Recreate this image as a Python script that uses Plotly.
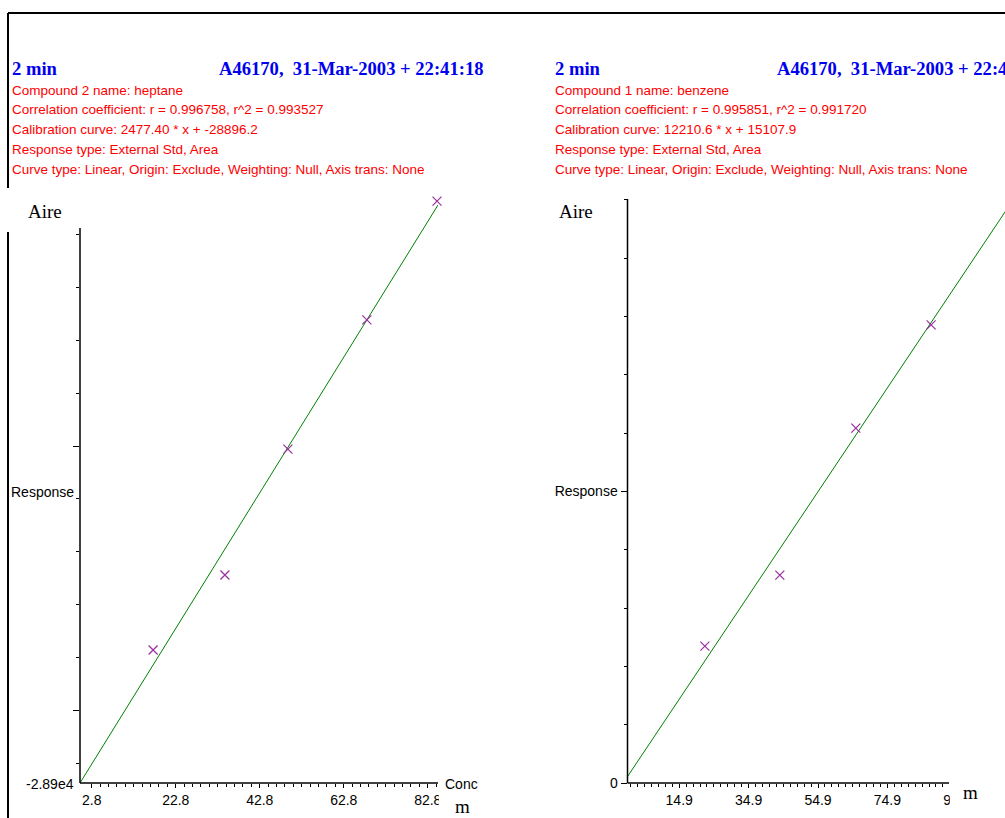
import plotly.graph_objects as go

W, H = 1005, 818

# ---------------- data ----------------
heptane_conc = [17.4, 34.5, 49.5, 68.3, 85.0]
heptane_area = [19700, 47100, 93100, 140300, 183700]
heptane_slope = 2477.40
heptane_intercept = -28896.2
heptane_fit_x = [0.0, 85.24]
heptane_xlabels = [2.8, 22.8, 42.8, 62.8, 82.8]
heptane_xlong = [12.8, 32.8, 52.8, 72.8]

benzene_conc = [22.3, 43.9, 65.8, 87.5, 109.4]
benzene_area = [322000, 489000, 835000, 1078000, 1369000]
benzene_slope = 12210.6
benzene_intercept = 15107.9
benzene_fit_x = [0.0, 112.0]
benzene_xlabels = [14.9, 34.9, 54.9, 74.9, 94.9]
benzene_xlong = [4.9, 24.9, 44.9, 64.9, 84.9]

header_time = "2 min"
header_run = "A46170,\u00a0 31-Mar-2003 + 22:41:18"
left_info = [
    "Compound 2 name: heptane",
    "Correlation coefficient: r = 0.996758, r^2 = 0.993527",
    "Calibration curve: 2477.40 * x + -28896.2",
    "Response type: External Std, Area",
    "Curve type: Linear, Origin: Exclude, Weighting: Null, Axis trans: None",
]
right_info = [
    "Compound 1 name: benzene",
    "Correlation coefficient: r = 0.995851, r^2 = 0.991720",
    "Calibration curve: 12210.6 * x + 15107.9",
    "Response type: External Std, Area",
    "Curve type: Linear, Origin: Exclude, Weighting: Null, Axis trans: None",
]

# ---------------- styling / geometry ----------------
SANS = "Liberation Sans, Arial, sans-serif"
SERIF = "Liberation Serif, Times New Roman, serif"
BLUE = "#0000ee"
RED = "#ff0000"
GREEN = "#008000"
PURPLE = "#9930a0"


def fx(p):
    return p / W


def fy(p):
    return 1 - p / H


# left panel
L_X0, L_X1, L_XEND = 80, 438, 438
L_YB, L_YT, L_YAX_TOP = 783, 195, 228
L_XSCALE = 4.2
L_YSCALE = 0.002737
l_xrange = [0, (L_X1 - L_X0) / L_XSCALE]
l_yrange = [heptane_intercept, heptane_intercept + (L_YB - L_YT) / L_YSCALE]
l_ytick0, l_ystep = -21600, 19300
l_yticks = [l_ytick0 + k * l_ystep for k in range(11)]
l_ylong = [l_yticks[1], l_yticks[6]]
l_xminor = [round(2.8 + 2 * k, 1) for k in range(42) if 2.8 + 2 * k <= l_xrange[1]]

# right panel
R_X0, R_X1, R_XEND = 627.5, 1005, 949
R_YB, R_YT, R_YAX_TOP = 783, 195, 199
R_XSCALE = 3.47
R_YSCALE = 0.000425
r_xrange = [0, (R_X1 - R_X0) / R_XSCALE]
r_yrange = [0, (R_YB - R_YT) / R_YSCALE]
r_xmax_axis = (R_XEND - R_X0) / R_XSCALE
r_ystep = 137200
r_yticks = [k * r_ystep for k in range(11)]
r_xminor = [round(0.9 + 2 * k, 1) for k in range(60) if 0.9 + 2 * k <= r_xmax_axis]

fig = go.Figure()

# fit lines
fig.add_trace(go.Scatter(
    x=heptane_fit_x, y=[heptane_slope * x + heptane_intercept for x in heptane_fit_x],
    mode="lines", line=dict(color=GREEN, width=1), xaxis="x", yaxis="y",
    showlegend=False, hoverinfo="skip"))
fig.add_trace(go.Scatter(
    x=benzene_fit_x, y=[benzene_slope * x + benzene_intercept for x in benzene_fit_x],
    mode="lines", line=dict(color=GREEN, width=1), xaxis="x2", yaxis="y2",
    showlegend=False, hoverinfo="skip"))

# calibration points
for xs, ys, xa, ya in [(heptane_conc, heptane_area, "x", "y"),
                       (benzene_conc, benzene_area, "x2", "y2")]:
    fig.add_trace(go.Scatter(
        x=xs, y=ys, mode="markers", xaxis=xa, yaxis=ya,
        marker=dict(symbol="x-thin-open", size=9, color=PURPLE,
                    line=dict(color=PURPLE, width=1.2)),
        cliponaxis=False, showlegend=False))

tick_common = dict(showline=False, showgrid=False, zeroline=False, ticks="outside",
                   tickcolor="black", tickwidth=1, automargin=False)

fig.update_layout(
    template="none",
    width=W, height=H, margin=dict(l=0, r=0, t=0, b=0, pad=0, autoexpand=False),
    paper_bgcolor="white", plot_bgcolor="white", showlegend=False,
    xaxis=dict(domain=[fx(L_X0), fx(L_X1)], range=l_xrange, anchor="y",
               tickmode="array", tickvals=heptane_xlabels,
               ticktext=[f"{v:.1f}" for v in heptane_xlabels], ticklen=4,
               tickfont=dict(family=SANS, size=14, color="black"),
               minor=dict(tickmode="array", tickvals=l_xminor, ticks="outside",
                          ticklen=3, tickcolor="black", tickwidth=1, showgrid=False),
               **tick_common),
    xaxis3=dict(domain=[fx(L_X0), fx(L_X1)], range=l_xrange, anchor="y", overlaying="x",
                tickmode="array", tickvals=heptane_xlong, ticklen=7,
                showticklabels=False, **tick_common),
    yaxis=dict(domain=[fy(L_YB), fy(L_YT)], range=l_yrange, anchor="x",
               tickmode="array", tickvals=l_ylong, ticklen=6, showticklabels=False,
               minor=dict(tickmode="array", tickvals=l_yticks, ticks="outside",
                          ticklen=3, tickcolor="black", tickwidth=1, showgrid=False),
               **tick_common),
    xaxis2=dict(domain=[fx(R_X0), 1.0], range=r_xrange, anchor="y2",
                tickmode="array", tickvals=benzene_xlabels,
                ticktext=[f"{v:.1f}" for v in benzene_xlabels], ticklen=4,
                tickfont=dict(family=SANS, size=14, color="black"),
                minor=dict(tickmode="array", tickvals=r_xminor, ticks="outside",
                           ticklen=3, tickcolor="black", tickwidth=1, showgrid=False),
                **tick_common),
    xaxis4=dict(domain=[fx(R_X0), 1.0], range=r_xrange, anchor="y2", overlaying="x2",
                tickmode="array", tickvals=benzene_xlong, ticklen=7,
                showticklabels=False, **tick_common),
    yaxis2=dict(domain=[fy(R_YB), fy(R_YT)], range=r_yrange, anchor="x2",
                tickmode="array", tickvals=[r_yticks[0], r_yticks[5], r_yticks[10]],
                ticktext=["0", "Response", ""], ticklen=6,
                tickfont=dict(family=SANS, size=14, color="black"),
                minor=dict(tickmode="array", tickvals=r_yticks, ticks="outside",
                           ticklen=3, tickcolor="black", tickwidth=1, showgrid=False),
                **tick_common),
)

# ---------------- shapes: frame, axis lines, clip boxes ----------------
def pline(x0, y0, x1, y1, w=1.5):
    return dict(type="line", xref="paper", yref="paper", x0=fx(x0), y0=fy(y0),
                x1=fx(x1), y1=fy(y1), line=dict(color="black", width=w), layer="above")


def wrect(x0, y0, x1, y1):
    return dict(type="rect", xref="paper", yref="paper", x0=fx(x0), y0=fy(y0),
                x1=fx(x1), y1=fy(y1), fillcolor="white", line=dict(width=0), layer="above")


shapes = [
    wrect(L_XEND + 0.8, 784, 442, 808),
    wrect(R_XEND + 0.8, 784, 1005, 812),
    pline(8, 13, 1005, 13, 2),
    pline(8, 13, 8, 188, 2),
    pline(8, 232, 8, 818, 2),
    pline(L_X0, L_YAX_TOP, L_X0, L_YB),
    pline(L_X0, L_YB, L_XEND, L_YB),
    pline(R_X0, R_YAX_TOP, R_X0, R_YB),
    pline(R_X0, R_YB, R_XEND, R_YB),
]
fig.update_layout(shapes=shapes)

# ---------------- annotations ----------------
ann = []


def txt(x, y, s, family, size, color, anchor="left", bold=False):
    ann.append(dict(xref="paper", yref="paper", x=fx(x), y=fy(y), text=s,
                    showarrow=False, xanchor=anchor, yanchor="middle",
                    font=dict(family=family, size=size, color=color,
                              weight="bold" if bold else "normal")))


for base_x, run_x, info in [(10, 217, left_info), (553, 775, right_info)]:
    txt(base_x, 68, header_time, SERIF, 18.6, BLUE, bold=True)
    txt(run_x, 68, header_run, SERIF, 18.6, BLUE, bold=True)
    for i, line in enumerate(info):
        txt(base_x, 90 + i * 19.8, line, SANS, 13.5, RED)

txt(26, 211, "Aire", SERIF, 19, "black")
txt(557, 211, "Aire", SERIF, 19, "black")
txt(76, 492, "Response", SANS, 14, "black", anchor="right")
txt(76, 784, "-2.89e4", SANS, 14, "black", anchor="right")
txt(443, 784, "Conc", SANS, 14, "black")
txt(462, 806, "m", SERIF, 19, "black", anchor="center")
txt(970, 792, "m", SERIF, 19, "black", anchor="center")

fig.update_layout(annotations=ann)

fig.write_html("out.html", config={"displayModeBar": False},
               post_script="document.body.style.margin='0';")
